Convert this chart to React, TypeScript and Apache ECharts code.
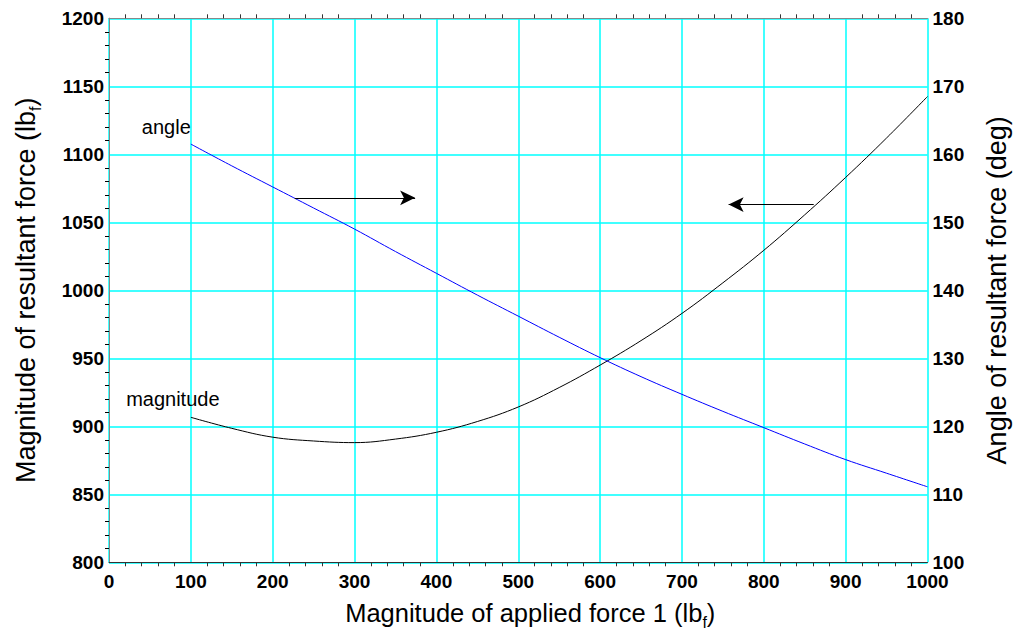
import React, { useEffect, useRef } from 'react';
import * as echarts from 'echarts';

// Data
const appliedForce = [100, 150, 200, 250, 300, 350, 400, 450, 500, 550, 600, 650, 700, 750, 800, 850, 900, 950, 1000];
const resultantMagnitude = [906.6, 898.5, 892, 889.2, 888, 890.6, 895.6, 903.5, 914.2, 928.5, 945, 963, 983, 1005.5, 1029.4, 1055.5, 1083, 1112, 1142.5];
const resultantAngle = [161.5, 158.3, 155.2, 152.1, 149.0, 145.7, 142.5, 139.3, 136.2, 133.1, 130.1, 127.3, 124.7, 122.2, 119.8, 117.4, 115.1, 113.1, 111.1];

// Annotations (data coordinates on the left axis)
const arrowToAngleAxis = [[227, 1068], [374, 1068]];
const arrowToMagnitudeAxis = [[861, 1063], [757, 1063]];
const curveLabels = [
  { name: 'angle', at: [70, 1120] },
  { name: 'magnitude', at: [78, 920] },
];

const FONT = 'Liberation Sans, Arial, Helvetica, sans-serif';
const CYAN = '#00FFFF';

export default function App() {
  const ref = useRef<HTMLDivElement>(null);

  useEffect(() => {
    if (!ref.current) return;
    const chart = echarts.init(ref.current, undefined, { renderer: 'svg' });

    const richSub = {
      sub: { fontSize: 16, lineHeight: 16, verticalAlign: 'bottom', fontFamily: FONT, color: '#000' },
    };
    const tickLabel = {
      fontFamily: FONT,
      fontSize: 19,
      fontWeight: 'bold',
      color: '#000',
      formatter: (v: number) => String(v),
    };

    const option: any = {
      animation: false,
      backgroundColor: '#fff',
      grid: {
        left: 109,
        right: 90.5,
        top: 18.3,
        bottom: 71.7,
        containLabel: false,
        outerBoundsMode: 'none',
      },
      xAxis: [
        {
          type: 'value',
          min: 0,
          max: 1000,
          interval: 100,
          position: 'bottom',
          name: 'Magnitude of applied force 1 (lb{sub|f})',
          nameLocation: 'middle',
          nameGap: 34,
          nameTextStyle: {
            fontFamily: FONT,
            fontSize: 25.5,
            color: '#000',
            lineHeight: 34,
            padding: [0, 0, 0, 24],
            rich: richSub,
          },
          axisLine: { show: true, lineStyle: { color: '#333', width: 1 } },
          axisTick: { show: false },
          minorTick: { show: true, splitNumber: 5, length: 4, lineStyle: { color: '#333' } },
          axisLabel: { ...tickLabel, margin: 10 },
          splitLine: { show: true, lineStyle: { color: CYAN, width: 1.5 } },
        },
        {
          type: 'value',
          min: 0,
          max: 1000,
          interval: 100,
          position: 'top',
          axisLine: { show: true, lineStyle: { color: '#888', width: 1 } },
          axisTick: { show: false },
          minorTick: { show: true, splitNumber: 5, length: 4, lineStyle: { color: '#333' } },
          axisLabel: { show: false },
          splitLine: { show: false },
        },
      ],
      yAxis: [
        {
          type: 'value',
          min: 800,
          max: 1200,
          interval: 50,
          position: 'left',
          name: 'Magnitude of resultant force (lb{sub|f})',
          nameLocation: 'middle',
          nameGap: 66,
          nameTextStyle: {
            fontFamily: FONT,
            fontSize: 27,
            color: '#000',
            lineHeight: 34,
            rich: richSub,
          },
          axisLine: { show: true, lineStyle: { color: '#000', width: 1 } },
          axisTick: { show: false },
          minorTick: { show: true, splitNumber: 5, length: 4, lineStyle: { color: '#000' } },
          axisLabel: { ...tickLabel, margin: 5 },
          splitLine: { show: true, lineStyle: { color: CYAN, width: 1.5 } },
        },
        {
          type: 'value',
          min: 100,
          max: 180,
          interval: 10,
          position: 'right',
          name: 'Angle of resultant force (deg)',
          nameLocation: 'middle',
          nameGap: 56,
          nameRotate: 90,
          nameTextStyle: { fontFamily: FONT, fontSize: 27, color: '#000' },
          axisLine: { show: true, lineStyle: { color: '#888', width: 1 } },
          axisTick: { show: false },
          axisLabel: { ...tickLabel, margin: 5 },
          splitLine: { show: false },
        },
      ],
      series: [
        {
          type: 'line',
          name: 'magnitude',
          xAxisIndex: 0,
          yAxisIndex: 0,
          data: appliedForce.map((x, i) => [x, resultantMagnitude[i]]),
          smooth: 0.4,
          showSymbol: false,
          lineStyle: { color: '#000', width: 1 },
          itemStyle: { color: '#000' },
          markLine: {
            silent: true,
            symbol: ['none', 'arrow'],
            symbolSize: [11, 15],
            label: { show: false },
            lineStyle: { color: '#000', width: 1.2, type: 'solid' },
            data: [
              [{ coord: arrowToAngleAxis[0] }, { coord: arrowToAngleAxis[1] }],
              [{ coord: arrowToMagnitudeAxis[0] }, { coord: arrowToMagnitudeAxis[1] }],
            ],
          },
          markPoint: {
            silent: true,
            symbol: 'circle',
            symbolSize: 0,
            label: {
              show: true,
              position: 'inside',
              formatter: '{b}',
              fontFamily: FONT,
              fontSize: 20,
              color: '#000',
            },
            data: curveLabels.map((l) => ({ name: l.name, coord: l.at })),
          },
        },
        {
          type: 'line',
          name: 'angle',
          xAxisIndex: 0,
          yAxisIndex: 1,
          data: appliedForce.map((x, i) => [x, resultantAngle[i]]),
          smooth: 0.4,
          showSymbol: false,
          lineStyle: { color: '#0000FF', width: 1 },
          itemStyle: { color: '#0000FF' },
        },
      ],
    };

    chart.setOption(option);
    return () => chart.dispose();
  }, []);

  return (
    <div
      ref={ref}
      style={{ position: 'fixed', left: 0, top: 0, width: 1018, height: 634, background: '#fff' }}
    />
  );
}
